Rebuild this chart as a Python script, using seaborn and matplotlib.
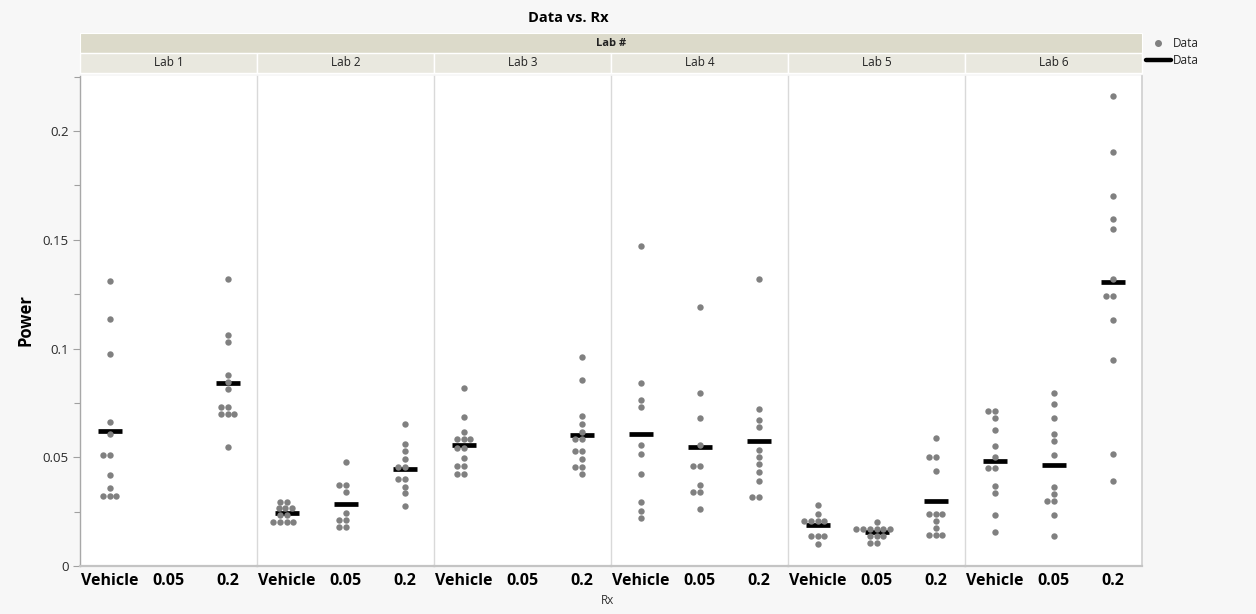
import numpy as np
import pandas as pd
import matplotlib
matplotlib.use("Agg")
import matplotlib.pyplot as plt
from matplotlib.patches import Rectangle
from matplotlib.lines import Line2D
from matplotlib.ticker import MultipleLocator
import seaborn as sns

# ---- data -------------------------------------------------------------
labs = ["Lab 1", "Lab 2", "Lab 3", "Lab 4", "Lab 5", "Lab 6"]
rx_levels = ["Vehicle", "0.05", "0.2"]

lab1_vehicle = [0.1312, 0.1137, 0.0973, 0.0662, 0.0605, 0.0509, 0.0509, 0.0418, 0.0360, 0.0323, 0.0323, 0.0323]
lab1_005 = []
lab1_02 = [0.1321, 0.1064, 0.1032, 0.0878, 0.0848, 0.0814, 0.0733, 0.0733, 0.0700, 0.0700, 0.0700, 0.0549]

lab2_vehicle = [0.0296, 0.0296, 0.0265, 0.0265, 0.0265, 0.0236, 0.0236, 0.0201, 0.0201, 0.0201, 0.0201]
lab2_005 = [0.0477, 0.0372, 0.0372, 0.0340, 0.0245, 0.0211, 0.0211, 0.0178, 0.0178]
lab2_02 = [0.0653, 0.0562, 0.0530, 0.0492, 0.0457, 0.0457, 0.0398, 0.0398, 0.0365, 0.0334, 0.0276]

lab3_vehicle = [0.0818, 0.0685, 0.0616, 0.0584, 0.0584, 0.0584, 0.0541, 0.0541, 0.0495, 0.0460, 0.0460, 0.0424, 0.0424]
lab3_005 = []
lab3_02 = [0.0961, 0.0855, 0.0688, 0.0651, 0.0616, 0.0584, 0.0584, 0.0530, 0.0530, 0.0490, 0.0457, 0.0457, 0.0424]

lab4_vehicle = [0.1471, 0.0840, 0.0763, 0.0730, 0.0556, 0.0513, 0.0423, 0.0293, 0.0253, 0.0222]
lab4_005 = [0.1191, 0.0795, 0.0680, 0.0556, 0.0458, 0.0458, 0.0371, 0.0339, 0.0339, 0.0262]
lab4_02 = [0.1320, 0.0722, 0.0673, 0.0641, 0.0532, 0.0500, 0.0467, 0.0431, 0.0389, 0.0319, 0.0319]

lab5_vehicle = [0.0279, 0.0239, 0.0207, 0.0207, 0.0207, 0.0207, 0.0138, 0.0138, 0.0138, 0.0103]
lab5_005 = [0.0202, 0.0172, 0.0172, 0.0172, 0.0172, 0.0172, 0.0172, 0.0138, 0.0138, 0.0138, 0.0107, 0.0107]
lab5_02 = [0.0590, 0.0503, 0.0503, 0.0438, 0.0238, 0.0238, 0.0238, 0.0207, 0.0176, 0.0144, 0.0144, 0.0144]

lab6_vehicle = [0.0713, 0.0713, 0.0680, 0.0624, 0.0552, 0.0503, 0.0449, 0.0449, 0.0369, 0.0337, 0.0236, 0.0158]
lab6_005 = [0.0794, 0.0743, 0.0680, 0.0608, 0.0576, 0.0510, 0.0362, 0.0330, 0.0297, 0.0297, 0.0236, 0.0138]
lab6_02 = [0.2162, 0.1903, 0.1703, 0.1597, 0.1549, 0.1320, 0.1240, 0.1240, 0.1131, 0.0946, 0.0515, 0.0389]

series = {
    "Lab 1": [lab1_vehicle, lab1_005, lab1_02],
    "Lab 2": [lab2_vehicle, lab2_005, lab2_02],
    "Lab 3": [lab3_vehicle, lab3_005, lab3_02],
    "Lab 4": [lab4_vehicle, lab4_005, lab4_02],
    "Lab 5": [lab5_vehicle, lab5_005, lab5_02],
    "Lab 6": [lab6_vehicle, lab6_005, lab6_02],
}

rows = []
for lab in labs:
    for rx, vals in zip(rx_levels, series[lab]):
        for v in vals:
            rows.append({"Lab #": lab, "Rx": rx, "Power": v})
df = pd.DataFrame(rows)

# ---- style ------------------------------------------------------------
sns.set_theme(style="white")
plt.rcParams["font.family"] = ["Open Sans", "DejaVu Sans"]

W, H = 1256, 614
fig = plt.figure(figsize=(W / 100, H / 100), dpi=100, facecolor="#f7f7f7")

left, right = 80 / W, 1142 / W
bottom, top = 1 - 566 / H, 1 - 76 / H
pw = (right - left) / len(labs)

point_color = "#808080"
axes = []
for i, lab in enumerate(labs):
    ax = fig.add_axes([left + i * pw, bottom, pw, top - bottom],
                      sharey=axes[0] if axes else None)
    ax.set_facecolor("white")
    sub = df[df["Lab #"] == lab]
    sns.swarmplot(data=sub, x="Rx", y="Power", order=rx_levels,
                  color=point_color, size=4.6, linewidth=0, ax=ax)
    sns.pointplot(data=sub, x="Rx", y="Power", order=rx_levels,
                  estimator="mean", errorbar=None, color="black",
                  markers="_", linestyles="none", markersize=17,
                  markeredgewidth=3.4, ax=ax)
    ax.set_xlim(-0.5, 2.5)
    ax.set_ylim(0, 0.2253)
    ax.set_xlabel("")
    ax.set_ylabel("")
    ax.tick_params(axis="x", length=0, pad=5)
    for lbl in ax.get_xticklabels():
        lbl.set_fontweight("bold")
        lbl.set_fontsize(11.5)
        lbl.set_color("black")
    ax.spines["top"].set_visible(False)
    ax.spines["bottom"].set_color("#c4c4c4")
    ax.spines["bottom"].set_linewidth(1.6)
    ax.spines["left"].set_color("#d9d9d9")
    ax.spines["left"].set_linewidth(1.0)
    ax.spines["right"].set_visible(i == len(labs) - 1)
    ax.spines["right"].set_color("#d0d0d0")
    if i == 0:
        ax.spines["left"].set_color("#a8a8a8")
        ax.yaxis.set_major_locator(MultipleLocator(0.05))
        ax.yaxis.set_minor_locator(MultipleLocator(0.025))
        ax.set_yticks([0, 0.05, 0.1, 0.15, 0.2])
        ax.set_yticklabels(["0", "0.05", "0.1", "0.15", "0.2"])
        ax.tick_params(axis="y", which="major", left=True, length=5,
                       width=0.8, color="#a0a0a0", labelsize=9.5,
                       labelcolor="#2a2a2a", pad=3)
        ax.tick_params(axis="y", which="minor", left=True, length=4,
                       width=0.8, color="#a0a0a0")
    else:
        ax.tick_params(axis="y", which="both", left=False, labelleft=False)
    axes.append(ax)

# ---- facet strips ---------------------------------------------------------
outer_y0, outer_y1 = 1 - 53 / H, 1 - 33 / H
inner_y0, inner_y1 = 1 - 73 / H, 1 - 53 / H
fig.patches.append(Rectangle((left, outer_y0), right - left, outer_y1 - outer_y0,
                             transform=fig.transFigure, facecolor="#dcdaca",
                             edgecolor="white", linewidth=0.8, zorder=0))
fig.text((left + right) / 2, (outer_y0 + outer_y1) / 2, "Lab #",
         ha="center", va="center", fontsize=8, fontweight="bold", color="#222222")
for i, lab in enumerate(labs):
    x0 = left + i * pw
    fig.patches.append(Rectangle((x0, inner_y0), pw, inner_y1 - inner_y0,
                                 transform=fig.transFigure, facecolor="#e9e8df",
                                 edgecolor="white", linewidth=1.0, zorder=0))
    fig.text(x0 + pw / 2, (inner_y0 + inner_y1) / 2, lab,
             ha="center", va="center", fontsize=8.5, color="#222222")

# ---- titles and axis labels -------------------------------------------
fig.text(568 / W, 1 - 18 / H, "Data vs. Rx", ha="center", va="center",
         fontsize=10.5, fontweight="bold", color="black")
fig.text(25 / W, 1 - 320 / H, "Power", ha="center", va="center",
         rotation=90, fontsize=12, fontweight="bold", color="black")
fig.text(608 / W, 1 - 601 / H, "Rx", ha="center", va="center",
         fontsize=8.5, color="#333333")

# ---- legend -------------------------------------------------------------
handles = [
    Line2D([], [], marker="o", linestyle="none", color=point_color, markersize=4),
    Line2D([], [], color="black", linewidth=3.2),
]
fig.legend(handles, ["Data", "Data"], loc="upper left",
           bbox_to_anchor=(1146 / W, 1 - 37 / H), frameon=False,
           fontsize=8.5, handlelength=2.1, handletextpad=0.15,
           labelspacing=0.35, borderaxespad=0, borderpad=0)

fig.savefig("out.png", dpi=100, facecolor=fig.get_facecolor())
